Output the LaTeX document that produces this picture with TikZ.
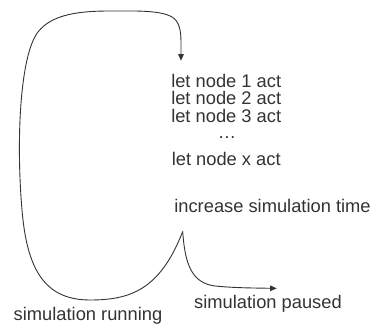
\documentclass[tikz,border=0pt]{standalone}
\usepackage{fontspec}
\setmainfont{Liberation Sans}
\usetikzlibrary{arrows.meta}
\definecolor{ink}{RGB}{51,51,51}
\begin{document}
\begin{tikzpicture}[x=1pt,y=-1pt,
  lbl/.style={inner sep=0pt,anchor=base,text=ink,font=\fontsize{18.3}{18.3}\selectfont},
  conn/.style={draw=ink,line width=0.9pt,-{Triangle[length=6.5pt,width=5.5pt]}}]
\useasboundingbox (0,0) rectangle (373,324);
\node[lbl] (l1) at (226.2,87) {let node 1 act};
\node[lbl] (l2) at (226.2,104.5) {let node 2 act};
\node[lbl] (l3) at (226.2,122) {let node 3 act};
\node[lbl] (dots) at (227,138.5) {…};
\node[lbl] (lx) at (226.2,165.5) {let node x act};
\node[lbl] (inc) at (272.5,212.3) {increase simulation time};
\node[lbl] (paused) at (268,308.5) {simulation paused};
\node[lbl] (running) at (88,320.8) {simulation running};
\coordinate (cusp) at (182.7,231.5);
\coordinate (top) at (181,60.7);
\coordinate (pend) at (276.7,288.4);
\draw[conn] (cusp) .. controls (160,290) and (130,300) .. (90,300)
  .. controls (45,300) and (27,270) .. (22,210)
  .. controls (16,140) and (20,55) .. (38,32)
  .. controls (52,14) and (80,11) .. (110,11)
  .. controls (135,11) and (160,10) .. (172,17)
  .. controls (179,21) and (181,30) .. (181,42) -- (top);
\draw[conn] (cusp) .. controls (185,265) and (192,283) .. (215,286)
  .. controls (235,288) and (255,288) .. (pend);
\end{tikzpicture}
\end{document}
